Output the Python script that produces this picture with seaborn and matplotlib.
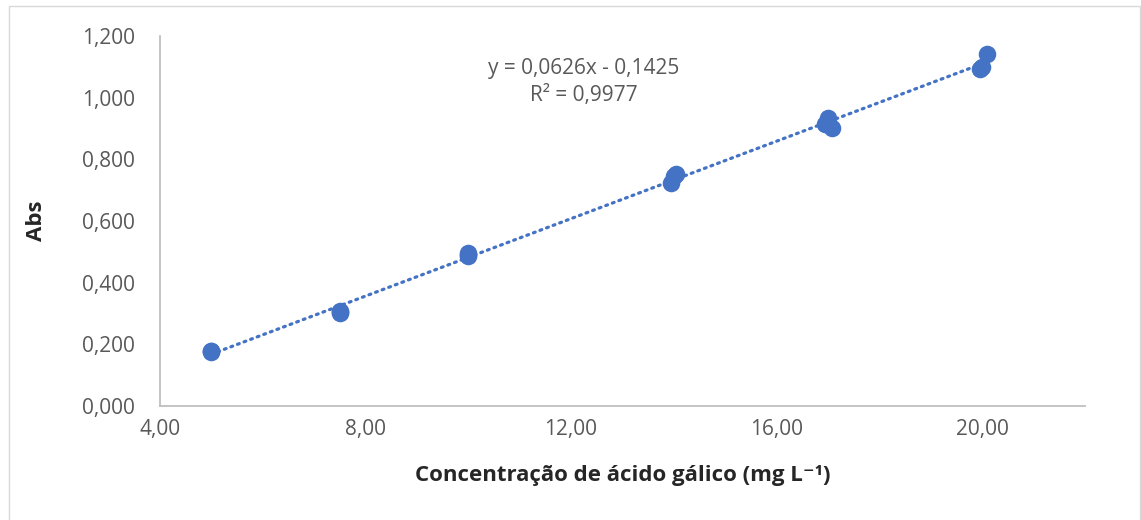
import numpy as np
import pandas as pd
import seaborn as sns
import matplotlib.pyplot as plt
from matplotlib.patches import Rectangle

# concentracao (mg/L) e absorbancia, triplicatas
conc = [5.0, 5.0, 5.0, 7.5, 7.5, 7.5, 10.0, 10.0, 10.0,
        13.95, 14.05, 14.0, 17.0, 17.08, 16.95, 19.95, 20.0, 20.1]
absb = [0.178, 0.175, 0.180, 0.301, 0.305, 0.309, 0.490, 0.497, 0.485,
        0.722, 0.752, 0.745, 0.935, 0.902, 0.915, 1.092, 1.100, 1.142]
eq_txt = "y = 0,0626x - 0,1425\nR² = 0,9977"
xticks = [4, 8, 12, 16, 20]
yticks = [0, 0.2, 0.4, 0.6, 0.8, 1.0, 1.2]

df = pd.DataFrame({'conc': conc, 'abs': absb})

sns.set_style("white")
plt.rcParams['font.family'] = ['Open Sans', 'DejaVu Sans']

fig = plt.figure(figsize=(11.41, 5.2), dpi=100)
ax = fig.add_axes([0.140, 0.219, 0.811, 0.712])

cor = '#4472C4'
sns.regplot(x='conc', y='abs', data=df, scatter=False, ci=None, ax=ax,
            line_kws=dict(color=cor, lw=2.3, linestyle=(0, (0.6, 1.6)),
                          dash_capstyle='round'))
sns.scatterplot(x='conc', y='abs', data=df, ax=ax, color=cor, s=160,
                edgecolor=cor, linewidth=0, zorder=3)

ax.set_xlim(4, 22)
ax.set_ylim(0, 1.2)
ax.set_xticks(xticks)
ax.set_xticklabels([f"{v:.2f}".replace('.', ',') for v in xticks])
ax.set_yticks(yticks)
ax.set_yticklabels([f"{v:.3f}".replace('.', ',') for v in yticks])
ax.tick_params(length=0, labelsize=15, labelcolor='#595959')
ax.tick_params(axis='y', pad=18)
ax.tick_params(axis='x', pad=9)

for s in ['top', 'right']:
    ax.spines[s].set_visible(False)
for s in ['left', 'bottom']:
    ax.spines[s].set_color('#BFBFBF')
    ax.spines[s].set_linewidth(1.3)
ax.grid(False)

ax.set_xlabel('Concentração de ácido gálico (mg L⁻¹)', fontsize=16,
              fontweight='bold', labelpad=18)
ax.set_ylabel('Abs', fontsize=16, fontweight='bold', labelpad=25)

ax.text(0.458, 0.876, eq_txt, transform=ax.transAxes, ha='center', va='center',
        fontsize=15, color='#595959', linespacing=1.4)

fig.patches.append(Rectangle((9 / 1141, -0.01), (1140 - 9) / 1141, 1 - 6 / 520 + 0.01,
                             transform=fig.transFigure, fill=False,
                             edgecolor='#D9D9D9', lw=1))

fig.savefig('out.png', dpi=100)
